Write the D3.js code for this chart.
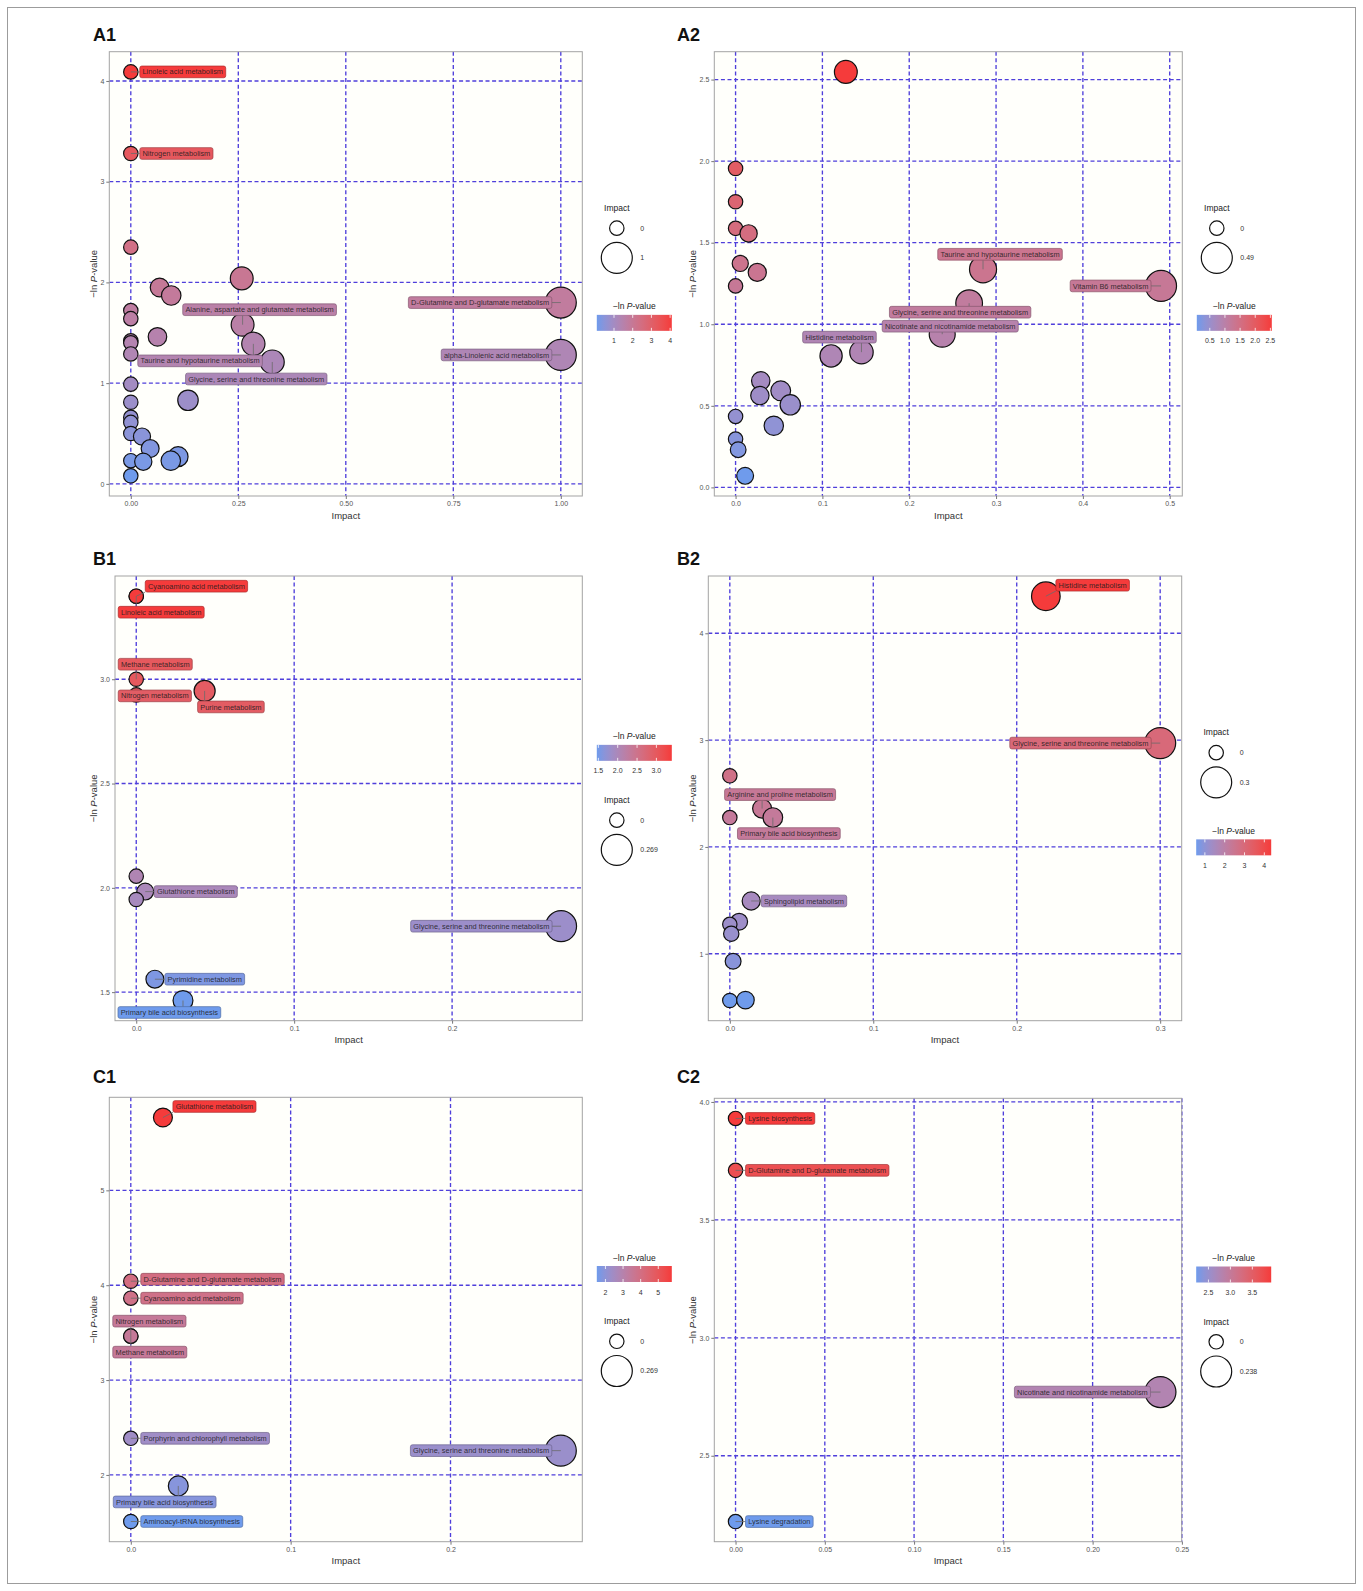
<!DOCTYPE html>
<html>
<head>
<meta charset="utf-8">
<script src="https://cdn.jsdelivr.net/npm/d3@7"></script>
<style>
body{margin:0;background:#fff;}
svg{display:block;font-family:"Liberation Sans",Arial,Helvetica,sans-serif;}
</style>
</head>
<body>
<div class="visualization"></div>
<script>
/*
Pathway impact bubble plots, six panels
*/

// ---- A1 ----
var a1Impact = [0, 0, 0, 0.258, 0.067, 0.094, 1.0, 0, 0, 0.26, 0.062, 0, 0, 0.285, 0, 0.329, 1.0,
                0, 0.133, 0, 0, 0, 0, 0.026, 0.045, 0.11, 0.093, 0, 0.029, 0];
var a1LogP = [4.09, 3.28, 2.35, 2.04, 1.95, 1.87, 1.80, 1.72, 1.64, 1.58, 1.46, 1.42, 1.40, 1.39, 1.29, 1.21, 1.28,
              0.99, 0.83, 0.81, 0.66, 0.61, 0.50, 0.47, 0.35, 0.27, 0.23, 0.23, 0.22, 0.08];
var a1Names = ["Linoleic acid metabolism", "Nitrogen metabolism", "", "", "", "",
               "D-Glutamine and D-glutamate metabolism", "", "", "Alanine, aspartate and glutamate metabolism",
               "", "", "", "Taurine and hypotaurine metabolism", "", "Glycine, serine and threonine metabolism",
               "alpha-Linolenic acid metabolism", "", "", "", "", "", "", "", "", "", "", "", "", ""];
var a1XTicks = [0, 0.25, 0.5, 0.75, 1];
var a1YTicks = [0, 1, 2, 3, 4];
var a1ColorTicks = [1, 2, 3, 4];

// ---- A2 ----
var a2Impact = [0.127, 0, 0, 0, 0.015, 0.0054, 0.025, 0, 0.285, 0.49, 0.269, 0.238, 0.11, 0.145,
                0.029, 0.052, 0.028, 0.063, 0.044, 0, 0, 0.003, 0.011];
var a2LogP = [2.547, 1.955, 1.751, 1.588, 1.557, 1.373, 1.318, 1.235, 1.337, 1.235, 1.129, 0.939, 0.806, 0.829,
              0.653, 0.592, 0.563, 0.506, 0.378, 0.435, 0.296, 0.231, 0.071];
var a2Names = ["", "", "", "", "", "", "", "", "Taurine and hypotaurine metabolism", "Vitamin B6 metabolism",
               "Glycine, serine and threonine metabolism", "Nicotinate and nicotinamide metabolism", "",
               "Histidine metabolism", "", "", "", "", "", "", "", "", ""];
var a2XTicks = [0, 0.1, 0.2, 0.3, 0.4, 0.5];
var a2YTicks = [0, 0.5, 1, 1.5, 2, 2.5];
var a2ColorTicks = [0.5, 1, 1.5, 2, 2.5];

// ---- B1 ----
var b1Impact = [0, 0, 0, 0, 0.0433, 0, 0.0057, 0, 0.269, 0.0118, 0.0296];
var b1LogP = [3.398, 3.398, 3.0, 2.925, 2.944, 2.056, 1.982, 1.944, 1.816, 1.562, 1.46];
var b1Names = ["Cyanoamino acid metabolism", "Linoleic acid metabolism", "Methane metabolism",
               "Nitrogen metabolism", "Purine metabolism", "", "Glutathione metabolism", "",
               "Glycine, serine and threonine metabolism", "Pyrimidine metabolism", "Primary bile acid biosynthesis"];
var b1XTicks = [0, 0.1, 0.2];
var b1YTicks = [1.5, 2, 2.5, 3];
var b1ColorTicks = [1.5, 2, 2.5, 3];

// ---- B2 ----
var b2Impact = [0.2203, 0.3, 0, 0.0225, 0, 0.030, 0.0149, 0.0065, 0, 0.001, 0.0023, 0, 0.0109];
var b2LogP = [4.347, 2.972, 2.666, 2.359, 2.275, 2.275, 1.494, 1.30, 1.275, 1.1875, 0.93, 0.5625, 0.566];
var b2Names = ["Histidine metabolism", "Glycine, serine and threonine metabolism", "",
               "Arginine and proline metabolism", "", "Primary bile acid biosynthesis", "Sphingolipid metabolism",
               "", "", "", "", "", ""];
var b2XTicks = [0, 0.1, 0.2, 0.3];
var b2YTicks = [1, 2, 3, 4];
var b2ColorTicks = [1, 2, 3, 4];

// ---- C1 ----
var c1Impact = [0.0201, 0, 0, 0, 0, 0, 0.269, 0.0297, 0];
var c1LogP = [5.768, 4.042, 3.863, 3.463, 3.463, 2.386, 2.256, 1.884, 1.509];
var c1Names = ["Glutathione metabolism", "D-Glutamine and D-glutamate metabolism", "Cyanoamino acid metabolism",
               "Nitrogen metabolism", "Methane metabolism", "Porphyrin and chlorophyll metabolism",
               "Glycine, serine and threonine metabolism", "Primary bile acid biosynthesis", "Aminoacyl-tRNA biosynthesis"];
var c1XTicks = [0, 0.1, 0.2];
var c1YTicks = [2, 3, 4, 5];
var c1ColorTicks = [2, 3, 4, 5];

// ---- C2 ----
var c2Impact = [0, 0, 0.238, 0];
var c2LogP = [3.93, 3.71, 2.77, 2.221];
var c2Names = ["Lysine biosynthesis", "D-Glutamine and D-glutamate metabolism",
               "Nicotinate and nicotinamide metabolism", "Lysine degradation"];
var c2XTicks = [0, 0.05, 0.1, 0.15, 0.2, 0.25];
var c2YTicks = [2.5, 3, 3.5, 4];
var c2ColorTicks = [2.5, 3, 3.5];

// label nudges (pixels from the point: dx, dy, anchor of the box)
var a1Nudge = {"Linoleic acid metabolism":[9,0,"start"], "Nitrogen metabolism":[9,0,"start"],
    "D-Glutamine and D-glutamate metabolism":[-9,0,"end"], "Alanine, aspartate and glutamate metabolism":[17,-15,"middle"],
    "Taurine and hypotaurine metabolism":[9,17,"end"], "Glycine, serine and threonine metabolism":[-16,17,"middle"],
    "alpha-Linolenic acid metabolism":[-9,0,"end"]};
var a2Nudge = {"Taurine and hypotaurine metabolism":[17,-15,"middle"], "Vitamin B6 metabolism":[-10,0,"end"],
    "Glycine, serine and threonine metabolism":[-9,9,"middle"], "Nicotinate and nicotinamide metabolism":[8,-8,"middle"],
    "Histidine metabolism":[-22,-15,"middle"]};
var b1Nudge = {"Cyanoamino acid metabolism":[9,-10,"start"], "Linoleic acid metabolism":[-18,16,"start"],
    "Methane metabolism":[-18,-15,"start"], "Nitrogen metabolism":[-18,1,"start"], "Purine metabolism":[-7,16,"start"],
    "Glutathione metabolism":[9,0,"start"], "Glycine, serine and threonine metabolism":[-9,0,"end"],
    "Pyrimidine metabolism":[10,0,"start"], "Primary bile acid biosynthesis":[-65,12,"start"]};
var b2Nudge = {"Histidine metabolism":[10,-11,"start"], "Glycine, serine and threonine metabolism":[-9,0,"end"],
    "Arginine and proline metabolism":[18,-14,"middle"], "Primary bile acid biosynthesis":[16,16,"middle"],
    "Sphingolipid metabolism":[10,0,"start"]};
var c1Nudge = {"Glutathione metabolism":[10,-11,"start"], "D-Glutamine and D-glutamate metabolism":[10,-2,"start"],
    "Cyanoamino acid metabolism":[10,0,"start"], "Nitrogen metabolism":[-18,-15,"start"],
    "Methane metabolism":[-18,16,"start"], "Porphyrin and chlorophyll metabolism":[10,0,"start"],
    "Glycine, serine and threonine metabolism":[-9,0,"end"], "Primary bile acid biosynthesis":[-65,16,"start"],
    "Aminoacyl-tRNA biosynthesis":[10,0,"start"]};
var c2Nudge = {"Lysine biosynthesis":[10,0,"start"], "D-Glutamine and D-glutamate metabolism":[10,0,"start"],
    "Nicotinate and nicotinamide metabolism":[-10,0,"end"], "Lysine degradation":[10,0,"start"]};

var width = 1363;
var height = 1591;
var lowColor = "#6f9bec";
var highColor = "#f53b3b";
var gridColor = "#4f3fdb";
var rMin = 7.2, rMax = 15.5;

var panels = [
    {tag:"A1", impact:a1Impact, logp:a1LogP, names:a1Names, nudge:a1Nudge, xTicks:a1XTicks, yTicks:a1YTicks,
     colorTicks:a1ColorTicks, xFmt:".2f", yFmt:"d", cFmt:"d", box:{x0:109.3, x1:582.3, y0:51.7, y1:496},
     tagPos:[93, 40.5], sizeFirst:true},
    {tag:"A2", impact:a2Impact, logp:a2LogP, names:a2Names, nudge:a2Nudge, xTicks:a2XTicks, yTicks:a2YTicks,
     colorTicks:a2ColorTicks, xFmt:".1f", yFmt:".1f", cFmt:".1f", box:{x0:714.3, x1:1182.3, y0:51.7, y1:496},
     tagPos:[677, 40.5], sizeFirst:true},
    {tag:"B1", impact:b1Impact, logp:b1LogP, names:b1Names, nudge:b1Nudge, xTicks:b1XTicks, yTicks:b1YTicks,
     colorTicks:b1ColorTicks, xFmt:".1f", yFmt:".1f", cFmt:".1f", box:{x0:115, x1:582.3, y0:576, y1:1020.7},
     tagPos:[93, 565], sizeFirst:false},
    {tag:"B2", impact:b2Impact, logp:b2LogP, names:b2Names, nudge:b2Nudge, xTicks:b2XTicks, yTicks:b2YTicks,
     colorTicks:b2ColorTicks, xFmt:".1f", yFmt:"d", cFmt:"d", box:{x0:708.3, x1:1181.7, y0:576, y1:1020.7},
     tagPos:[677, 565], sizeFirst:true},
    {tag:"C1", impact:c1Impact, logp:c1LogP, names:c1Names, nudge:c1Nudge, xTicks:c1XTicks, yTicks:c1YTicks,
     colorTicks:c1ColorTicks, xFmt:".1f", yFmt:"d", cFmt:"d", box:{x0:109.3, x1:582.3, y0:1097.3, y1:1541.7},
     tagPos:[93, 1083], sizeFirst:false},
    {tag:"C2", impact:c2Impact, logp:c2LogP, names:c2Names, nudge:c2Nudge, xTicks:c2XTicks, yTicks:c2YTicks,
     colorTicks:c2ColorTicks, xFmt:".2f", yFmt:".1f", cFmt:".1f", box:{x0:714.3, x1:1181.7, y0:1098.3, y1:1541.7},
     tagPos:[677, 1083], sizeFirst:false}
];

var svg = d3.select(".visualization").append("svg")
    .attr("width", width)
    .attr("height", height);

svg.append("rect").attr("width", width).attr("height", height).attr("fill", "#fff");
//outer frame
svg.append("rect")
    .attr("x", 7.5).attr("y", 7.5).attr("width", 1348).attr("height", 1576)
    .attr("fill", "none").attr("stroke", "#9c9c9c").attr("stroke-width", 1);

panels.forEach(drawPanel);

function drawPanel(p){
    var box = p.box;
    var data = d3.range(p.impact.length).map(function(i){
        return {impact:p.impact[i], logp:p.logp[i], name:p.names[i]};
    });
    var ix = d3.extent(p.impact), iy = d3.extent(p.logp);
    var padX = (ix[1] - ix[0]) * 0.05, padY = (iy[1] - iy[0]) * 0.05;
    var x = d3.scaleLinear().domain([ix[0] - padX, ix[1] + padX]).range([box.x0, box.x1]);
    var y = d3.scaleLinear().domain([iy[0] - padY, iy[1] + padY]).range([box.y1, box.y0]);
    var color = d3.scaleLinear().domain(iy).range([lowColor, highColor]).interpolate(d3.interpolateLab);
    var r = d3.scaleSqrt().domain([0, ix[1]]).range([rMin, rMax]);

    var g = svg.append("g").attr("class", "panel-" + p.tag);

    //panel tag
    g.append("text")
        .attr("x", p.tagPos[0]).attr("y", p.tagPos[1])
        .attr("font-size", 18).attr("font-weight", "bold").attr("fill", "#111")
        .text(p.tag);

    g.append("rect")
        .attr("x", box.x0).attr("y", box.y0)
        .attr("width", box.x1 - box.x0).attr("height", box.y1 - box.y0)
        .attr("fill", "#fffffb");

    //dashed grid
    g.selectAll(".vgrid").data(p.xTicks).enter().append("line")
        .attr("x1", function(d){return x(d);}).attr("x2", function(d){return x(d);})
        .attr("y1", box.y0).attr("y2", box.y1)
        .attr("stroke", gridColor).attr("stroke-width", 1.35).attr("stroke-dasharray", "4,2.6");
    g.selectAll(".hgrid").data(p.yTicks).enter().append("line")
        .attr("x1", box.x0).attr("x2", box.x1)
        .attr("y1", function(d){return y(d);}).attr("y2", function(d){return y(d);})
        .attr("stroke", gridColor).attr("stroke-width", 1.35).attr("stroke-dasharray", "4,2.6");

    g.append("rect")
        .attr("x", box.x0).attr("y", box.y0)
        .attr("width", box.x1 - box.x0).attr("height", box.y1 - box.y0)
        .attr("fill", "none").attr("stroke", "#a3a3a3").attr("stroke-width", 1);

    // x-axis
    var xAxisG = g.append("g")
        .attr("transform", "translate(0," + box.y1 + ")")
        .call(d3.axisBottom(x).tickValues(p.xTicks).tickFormat(d3.format(p.xFmt)).tickSize(3).tickPadding(2.5));
    // y-axis
    var yAxisG = g.append("g")
        .attr("transform", "translate(" + box.x0 + ",0)")
        .call(d3.axisLeft(y).tickValues(p.yTicks).tickFormat(d3.format(p.yFmt)).tickSize(3).tickPadding(2));
    [xAxisG, yAxisG].forEach(function(a){
        a.select(".domain").remove();
        a.attr("font-family", null).attr("font-size", 7);
        a.selectAll("line").attr("stroke", "#777");
        a.selectAll("text").attr("fill", "#555");
    });

    g.append("text")
        .attr("x", (box.x0 + box.x1) / 2).attr("y", box.y1 + 22.5)
        .attr("text-anchor", "middle").attr("font-size", 9.5).attr("fill", "#333")
        .text("Impact");

    var yb = yAxisG.node().getBBox();
    var yTitle = g.append("text")
        .attr("transform", "translate(" + (box.x0 + yb.x - 7) + "," + ((box.y0 + box.y1) / 2) + ") rotate(-90)")
        .attr("text-anchor", "middle").attr("dy", "0.35em").attr("font-size", 9.5).attr("fill", "#333");
    yTitle.append("tspan").text("\u2212ln ");
    yTitle.append("tspan").attr("font-style", "italic").text("P");
    yTitle.append("tspan").text("-value");

    // draw bubbles
    g.selectAll(".dot").data(data).enter().append("circle")
        .attr("class", "dot")
        .attr("cx", function(d){return x(d.impact);})
        .attr("cy", function(d){return y(d.logp);})
        .attr("r", function(d){return r(d.impact);})
        .attr("fill", function(d){return color(d.logp);})
        .attr("stroke", "#111").attr("stroke-width", 1.2);

    // labels with leader segments
    var labelled = data.filter(function(d){return d.name;});
    var segG = g.append("g");
    var labG = g.append("g");
    labelled.forEach(function(d){
        var nud = p.nudge[d.name] || [10, 0, "start"];
        var px = x(d.impact), py = y(d.logp);
        var lg = labG.append("g");
        var txt = lg.append("text")
            .attr("font-size", 7.4).attr("fill", "#1b1b1b").attr("fill-opacity", 0.88)
            .attr("dy", "0.35em")
            .text(d.name);
        var tw = txt.node().getComputedTextLength();
        var bw = tw + 5.4, bh = 11.7;
        var bx;
        if(nud[2] == "start") bx = px + nud[0];
        else if(nud[2] == "end") bx = px + nud[0] - bw;
        else bx = px + nud[0] - bw / 2;
        var by = py + nud[1] - bh / 2;
        lg.insert("rect", "text")
            .attr("x", bx).attr("y", by).attr("width", bw).attr("height", bh)
            .attr("rx", 2).attr("ry", 2)
            .attr("fill", color(d.logp))
            .attr("stroke", d3.color(color(d.logp)).darker(1)).attr("stroke-width", 0.7);
        txt.attr("x", bx + 2.7).attr("y", by + bh / 2);
        //segment from point to nearest box point
        var qx = Math.max(bx, Math.min(px, bx + bw));
        var qy = Math.max(by, Math.min(py, by + bh));
        if(Math.hypot(qx - px, qy - py) > 2){
            segG.append("line")
                .attr("x1", px).attr("y1", py).attr("x2", qx).attr("y2", qy)
                .attr("stroke", "#6b6b6b").attr("stroke-width", 0.8);
        }
    });

    // legends
    var lx = box.x1 + 14.5;
    var sizeH = 72, colorH = 45;
    var gap = p.sizeFirst ? 27 : 18;
    var top = (box.y0 + box.y1) / 2 - (sizeH + colorH + gap) / 2;
    if(p.sizeFirst){
        drawSizeLegend(g, lx, top, r, ix[1]);
        drawColorLegend(g, lx, top + sizeH + gap, color, iy, p);
    } else {
        drawColorLegend(g, lx, top, color, iy, p);
        drawSizeLegend(g, lx, top + colorH + gap, r, ix[1]);
    }
}

function drawSizeLegend(g, lx, top, r, maxImpact){
    g.append("text")
        .attr("x", lx + 20).attr("y", top + 9)
        .attr("text-anchor", "middle").attr("font-size", 8.5).attr("fill", "#222")
        .text("Impact");
    var keys = [0, maxImpact];
    var ys = [top + 26.3, top + 56];
    keys.forEach(function(k, i){
        g.append("circle")
            .attr("cx", lx + 20).attr("cy", ys[i]).attr("r", r(k))
            .attr("fill", "none").attr("stroke", "#111").attr("stroke-width", 1.2);
        g.append("text")
            .attr("x", lx + 43.5).attr("y", ys[i]).attr("dy", "0.35em")
            .attr("font-size", 7).attr("fill", "#333")
            .text(String(k));
    });
}

function drawColorLegend(g, lx, top, color, dom, p){
    var t = g.append("text")
        .attr("x", lx + 37.5).attr("y", top + 8.5)
        .attr("text-anchor", "middle").attr("font-size", 8.5).attr("fill", "#222");
    t.append("tspan").text("\u2212ln ");
    t.append("tspan").attr("font-style", "italic").text("P");
    t.append("tspan").text("-value");

    var gradId = "grad-" + p.tag;
    var grad = svg.append("defs").append("linearGradient").attr("id", gradId)
        .attr("x1", "0%").attr("x2", "100%").attr("y1", "0%").attr("y2", "0%");
    d3.range(0, 1.0001, 0.1).forEach(function(f){
        grad.append("stop").attr("offset", (f * 100) + "%")
            .attr("stop-color", color(dom[0] + f * (dom[1] - dom[0])));
    });
    var barW = 75, barH = 16, barY = top + 14;
    var cs = d3.scaleLinear().domain(dom).range([lx, lx + barW]);
    g.append("rect")
        .attr("x", lx).attr("y", barY).attr("width", barW).attr("height", barH)
        .attr("fill", "url(#" + gradId + ")");
    p.colorTicks.forEach(function(v){
        var tx = cs(v);
        g.append("line").attr("x1", tx).attr("x2", tx).attr("y1", barY).attr("y2", barY + 3)
            .attr("stroke", "#fff").attr("stroke-width", 0.8);
        g.append("line").attr("x1", tx).attr("x2", tx).attr("y1", barY + barH - 3).attr("y2", barY + barH)
            .attr("stroke", "#fff").attr("stroke-width", 0.8);
        g.append("text")
            .attr("x", tx).attr("y", top + 42.5)
            .attr("text-anchor", "middle").attr("font-size", 7).attr("fill", "#333")
            .text(d3.format(p.cFmt)(v));
    });
}
</script>
</body>
</html>
